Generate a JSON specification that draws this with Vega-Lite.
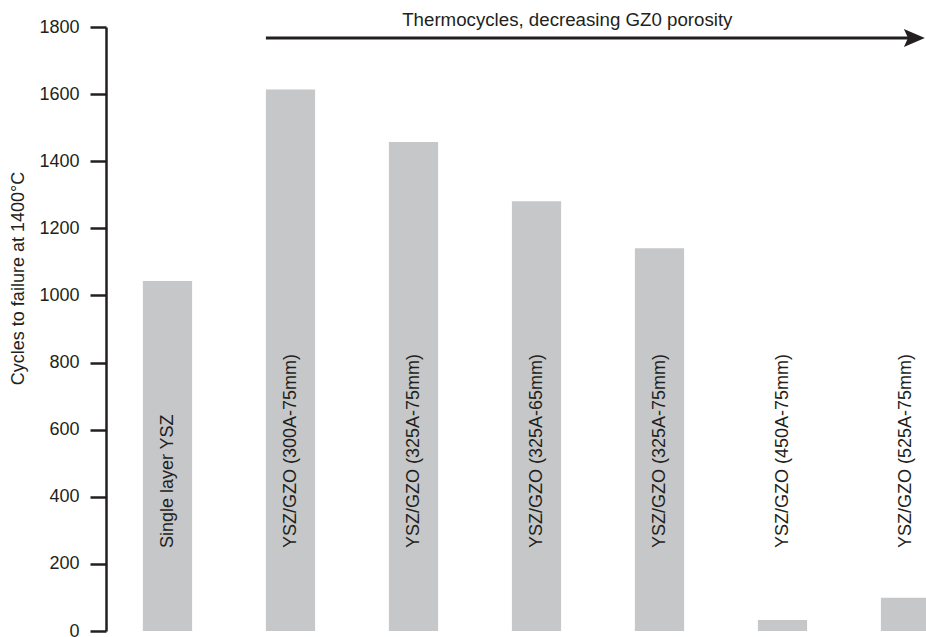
{
  "$schema": "https://vega.github.io/schema/vega-lite/v6.json",
  "width": 820,
  "height": 604,
  "autosize": {"type": "none"},
  "padding": {"left": 106, "top": 27, "right": 0, "bottom": 6},
  "background": "white",
  "config": {
    "view": {"stroke": null},
    "font": "Liberation Sans"
  },
  "data": {
    "values": [
      {"coating": "Single layer YSZ", "cycles": 1043},
      {"coating": "YSZ/GZO (300A-75mm)", "cycles": 1614},
      {"coating": "YSZ/GZO (325A-75mm)", "cycles": 1457},
      {"coating": "YSZ/GZO (325A-65mm)", "cycles": 1281},
      {"coating": "YSZ/GZO (325A-75mm) ", "cycles": 1141},
      {"coating": "YSZ/GZO (450A-75mm)", "cycles": 33},
      {"coating": "YSZ/GZO (525A-75mm)", "cycles": 99}
    ]
  },
  "layer": [
    {
      "mark": {"type": "bar", "color": "#c6c7c9"},
      "encoding": {
        "x": {
          "field": "coating",
          "type": "nominal",
          "axis": null,
          "scale": {
            "domain": [
              "Single layer YSZ",
              "YSZ/GZO (300A-75mm)",
              "YSZ/GZO (325A-75mm)",
              "YSZ/GZO (325A-65mm)",
              "YSZ/GZO (325A-75mm) ",
              "YSZ/GZO (450A-75mm)",
              "YSZ/GZO (525A-75mm)"
            ],
            "range": [0, 861],
            "paddingInner": 0.6,
            "paddingOuter": 0.3
          }
        },
        "y": {
          "field": "cycles",
          "type": "quantitative",
          "scale": {"domain": [0, 1800], "nice": false},
          "axis": {
            "values": [0, 200, 400, 600, 800, 1000, 1200, 1400, 1600, 1800],
            "format": "d",
            "grid": false,
            "title": "Cycles to failure at 1400°C",
            "titleFontSize": 18,
            "titleFontWeight": "normal",
            "titleColor": "#231f20",
            "titleAngle": 270,
            "titleAlign": "center",
            "titleBaseline": "middle",
            "titleX": -88,
            "titleY": 251,
            "domainColor": "#231f20",
            "domainWidth": 2.5,
            "tickColor": "#231f20",
            "tickWidth": 2.5,
            "tickSize": 16,
            "labelFontSize": 18,
            "labelColor": "#231f20",
            "labelPadding": 11,
            "labelFlush": false
          }
        }
      }
    },
    {
      "mark": {
        "type": "text",
        "angle": 270,
        "align": "left",
        "baseline": "middle",
        "fontSize": 18,
        "color": "#231f20"
      },
      "encoding": {
        "x": {"field": "coating", "type": "nominal"},
        "y": {"datum": 247},
        "text": {"field": "coating"}
      }
    },
    {
      "data": {"values": [{"start": "YSZ/GZO (300A-75mm)", "end": "YSZ/GZO (525A-75mm)"}]},
      "mark": {"type": "rule", "color": "#231f20", "strokeWidth": 3},
      "encoding": {
        "x": {"field": "start", "type": "nominal", "bandPosition": 0},
        "x2": {"field": "end", "bandPosition": 0.6},
        "y": {"datum": 1767}
      }
    },
    {
      "data": {"values": [{"end": "YSZ/GZO (525A-75mm)"}]},
      "mark": {
        "type": "point",
        "filled": true,
        "opacity": 1,
        "color": "#231f20",
        "size": 441,
        "shape": "M1,0L-1,-0.86L-0.6,0L-1,0.86Z"
      },
      "encoding": {
        "x": {"field": "end", "type": "nominal", "bandPosition": 0.68},
        "y": {"datum": 1767}
      }
    },
    {
      "data": {"values": [{"from": "YSZ/GZO (325A-75mm)", "note": "Thermocycles, decreasing GZ0 porosity"}]},
      "mark": {
        "type": "text",
        "align": "left",
        "baseline": "alphabetic",
        "fontSize": 18.7,
        "color": "#231f20"
      },
      "encoding": {
        "x": {"field": "from", "type": "nominal", "bandPosition": 0.27},
        "y": {"datum": 1802},
        "text": {"field": "note"}
      }
    }
  ]
}
